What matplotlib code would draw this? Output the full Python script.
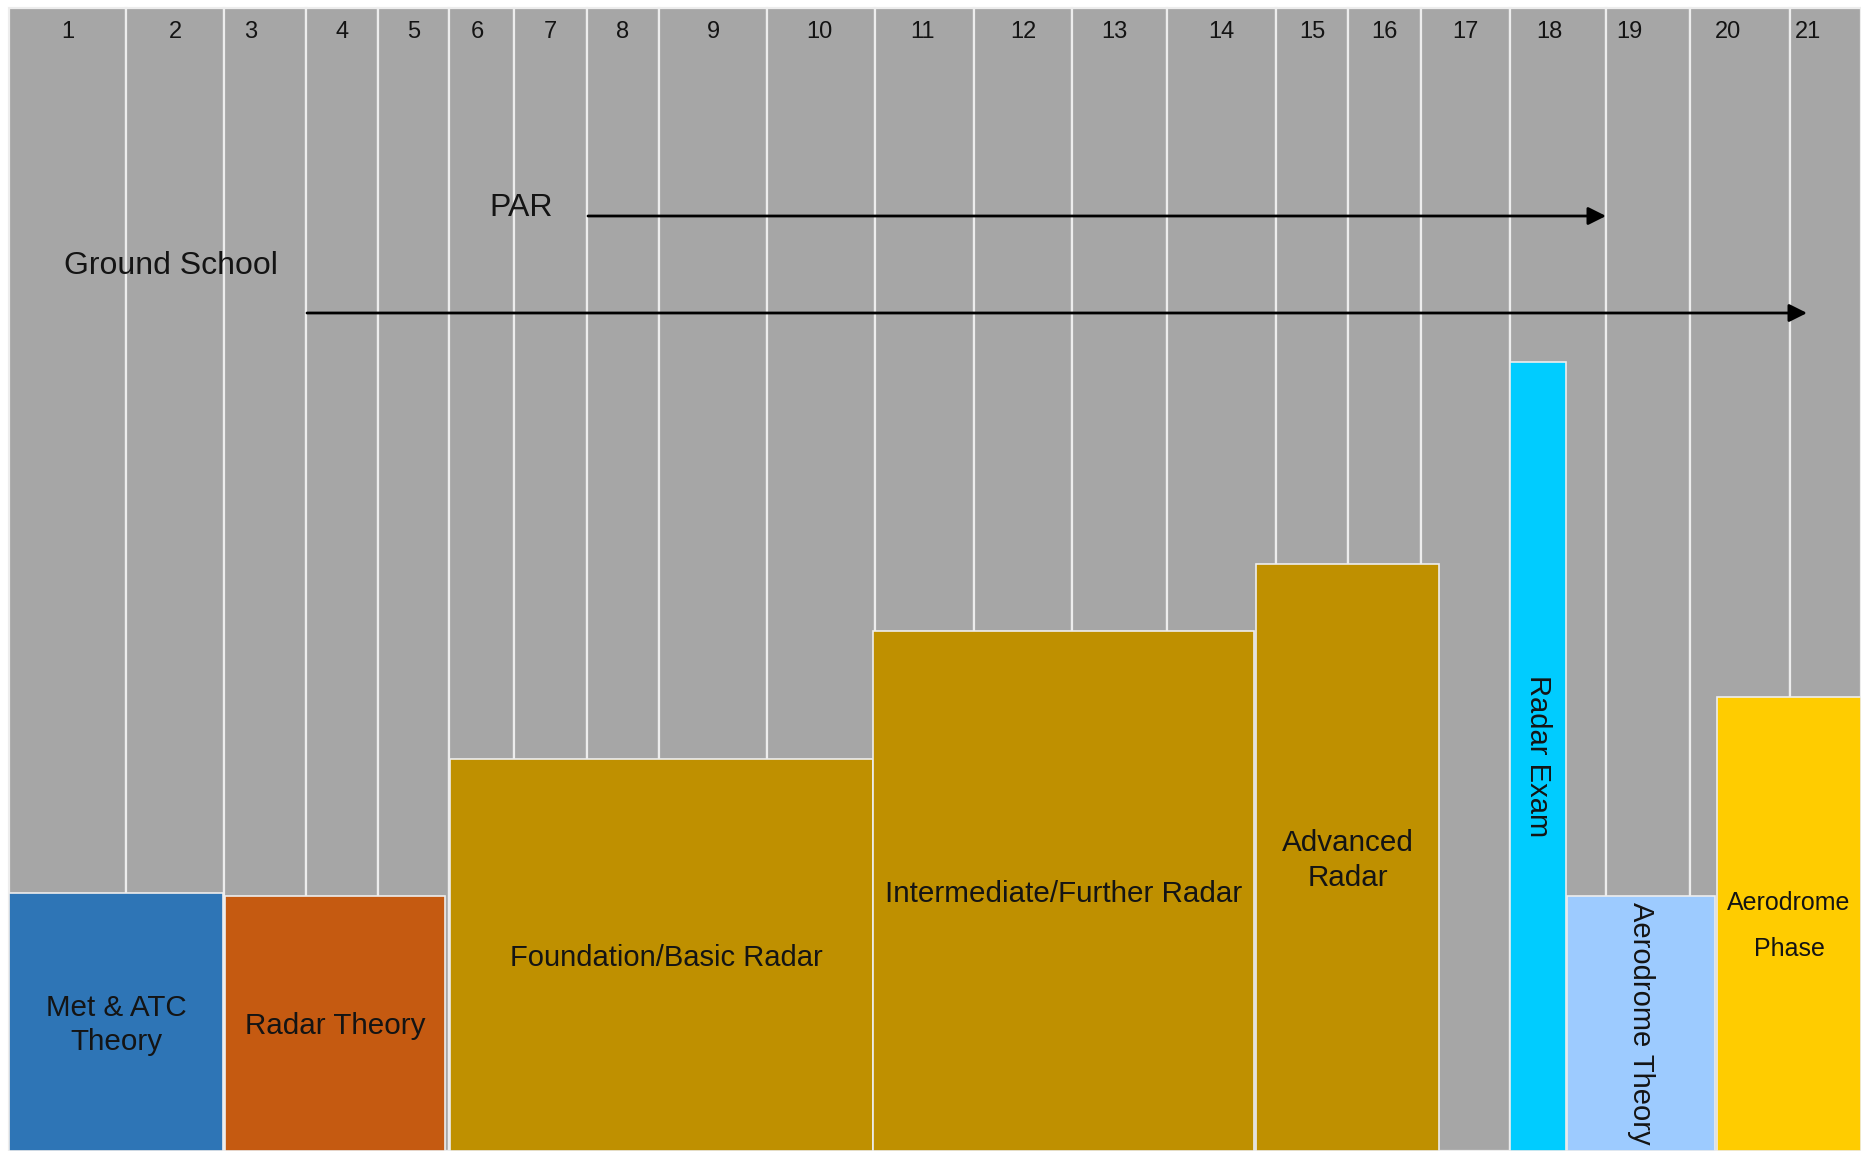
import numpy as np
import matplotlib.pyplot as plt

plt.rcParams['font.family'] = ['Liberation Sans', 'DejaVu Sans']

# week columns: edges on the slide (x), all columns reach the same top
weeks = [str(i) for i in range(1, 22)]
week_edges = [9, 126, 224, 306, 378, 449, 514, 587, 659, 767, 875, 974,
              1072, 1167, 1276, 1348, 1421, 1510, 1606, 1690, 1790, 1861]
col_top = 1143

# training phases (start, end, height of the block)
phases = ['Met & ATC\nTheory', 'Radar Theory', 'Foundation/Basic Radar',
          'Intermediate/Further Radar', 'Advanced\nRadar', 'Radar Exam',
          'Aerodrome Theory', 'Aerodrome\nPhase']
phase_start = [9, 225, 450, 873, 1256, 1510, 1567, 1717]
phase_end = [223, 445, 873, 1254, 1439, 1566, 1715, 1861]
phase_height = [258, 255, 392, 520, 587, 789, 255, 454]

# running courses drawn as arrows
courses = ['Ground School', 'PAR']
course_start = [307, 588]
course_end = [1807, 1606]
course_level = [838, 935]

phase_colors = ['#2E75B6', '#C55A11', '#BF9000', '#BF9000', '#BF9000',
                '#00CCFF', '#9DCBFF', '#FFCC00']
# the week numbers sit a little off-centre in some columns
label_shift = [0, 0, -14, 0, 0, -4, 0, 0, 0, -2, -2, 0, -5, 0, 0, 0, 0, -9,
               -19, -12, -17]
grey = '#A6A6A6'
line = '#EDEDED'
txt = '#141414'

fig = plt.figure(figsize=(18.61, 11.51), dpi=100)
ax = fig.add_axes([0, 0, 1, 1])
ax.set_xlim(0, 1861)
ax.set_ylim(0, 1151)
ax.axis('off')

edges = np.array(week_edges)
ax.bar(edges[:-1], col_top, width=np.diff(edges), align='edge',
       color=grey, edgecolor=line, linewidth=1.6, zorder=1)

for i, w in enumerate(weeks):
    ax.text((edges[i] + edges[i + 1]) / 2 + label_shift[i], 1119, w,
            ha='center', va='center', fontsize=17, color=txt, zorder=5)

x0 = np.array(phase_start)
x1 = np.array(phase_end)
h = np.array(phase_height)
ax.bar(x0, h, width=x1 - x0, align='edge', color=phase_colors,
       edgecolor=line, linewidth=1.2, zorder=3)

for i, name in enumerate(phases):
    cx = (x0[i] + x1[i]) / 2
    if name == 'Radar Exam':
        ax.text(cx, h[i] / 2, name, rotation=-90, ha='center', va='center',
                fontsize=21, color=txt, zorder=5)
    elif name == 'Aerodrome Theory':
        ax.text(cx, h[i] - 6, name, rotation=-90, ha='center', va='top',
                fontsize=21, color=txt, zorder=5)
    elif name == 'Aerodrome\nPhase':
        ax.text(cx, h[i] / 2 - 2, name, ha='center', va='center',
                fontsize=18, linespacing=2.15, color=txt, zorder=5)
    elif name == 'Foundation/Basic Radar':
        ax.text(cx + 5, h[i] / 2 - 3, name, ha='center', va='center',
                fontsize=21, color=txt, zorder=5)
    else:
        ax.text(cx, h[i] / 2 - 3, name, ha='center', va='center',
                fontsize=21.3, linespacing=1.3, color=txt, zorder=5)

for i, name in enumerate(courses):
    ax.annotate('', xy=(course_end[i], course_level[i]),
                xytext=(course_start[i], course_level[i]),
                arrowprops=dict(arrowstyle='-|>', color='black', lw=2,
                                mutation_scale=27, shrinkA=0, shrinkB=0),
                zorder=4)

ax.text(171, 885, courses[0], ha='center', va='center', fontsize=23, color=txt)
ax.text(521, 943, courses[1], ha='center', va='center', fontsize=23, color=txt)

fig.savefig('out.png', dpi=100)
